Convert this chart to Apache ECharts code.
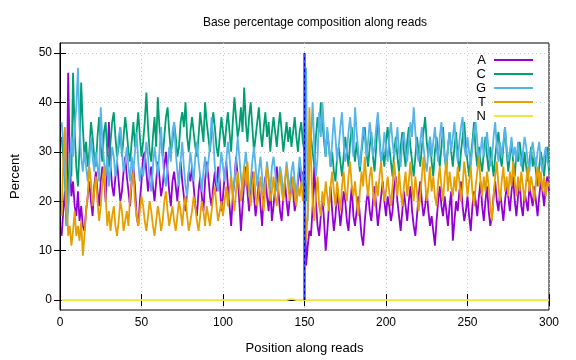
<!DOCTYPE html>
<html>
<head>
<meta charset="utf-8">
<script src="https://cdn.jsdelivr.net/npm/echarts@6/dist/echarts.min.js"></script>
<style>html,body{margin:0;padding:0;background:#fff}#c{width:576px;height:360px}</style>
</head>
<body>
<div id="c"></div>
<script>
const seriesNames = ['A', 'C', 'G', 'T', 'N'];
const seriesColors = ['#9400d3', '#009e73', '#56b4e9', '#e69f00', '#f0e442'];
const xTicks = [0, 50, 100, 150, 200, 250, 300];
const yTicks = [0, 10, 20, 30, 40, 50];
const readBoundary = 150;
const boundarySpan = [0, 50];

const valuesA = [
13,18,22,15,46,28,21,24,19,17, 22,16,19,15,14,18,21,24,20,17, 23,26,22,19,24,27,25,20,28,36,
27,23,21,25,28,24,20,22,26,29, 25,22,19,24,27,23,17,15,20,24, 29,30,26,22,25,27,23,20,24,28,
25,21,23,27,30,26,22,19,24,26, 23,20,25,28,24,21,18,22,26,24, 27,23,19,17,22,25,21,18,24,28,
25,21,19,23,26,22,27,24,18,21, 25,28,23,19,15,21,24,29,25,20, 14,19,24,27,22,18,23,26,21,17,
20,24,19,15,22,25,21,18,23,16, 19,23,27,22,18,16,21,24,20,17, 21,25,22,18,20,24,27,23,26,22,
7,11,14,13,19,27,20,15,13,17, 21,16,10,14,19,23,18,14,17,22, 19,15,18,22,20,16,14,19,23,17,
15,18,21,17,13,11,16,20,22,18, 16,20,23,19,15,18,21,24,20,17, 21,19,16,18,23,25,20,17,14,18,
22,19,16,20,23,18,15,13,17,21, 24,20,17,19,22,18,15,17,14,11, 16,20,23,19,17,21,18,15,19,22,
12,16,20,18,22,24,19,16,18,21, 17,14,19,22,20,17,21,24,19,16, 20,23,18,15,17,21,24,20,18,22,
19,16,20,23,21,18,22,25,20,17, 21,24,19,17,22,20,18,23,21,19, 23,20,17,21,24,22,19,23,25,22
];
const valuesC = [
33,29,24,17,22,30,25,46,34,27, 23,31,44,35,29,32,27,30,36,33, 29,27,33,37,31,28,34,36,30,27,
32,36,38,33,29,31,35,29,33,37, 34,30,28,32,36,31,34,38,33,29, 32,36,42,35,30,28,33,37,31,41,
35,32,29,33,37,39,34,30,32,36, 33,29,31,36,38,35,40,33,30,34, 37,34,31,29,33,38,35,32,40,36,
33,30,34,38,35,31,29,33,37,34, 31,35,38,34,30,36,41,37,33,35, 39,34,43,36,32,37,40,35,30,33,
36,39,34,31,35,38,33,36,30,34, 37,34,31,35,38,34,30,33,36,32, 35,31,34,37,33,30,34,36,32,30,
20,24,29,33,30,27,33,37,34,40, 36,32,29,34,31,27,30,26,24,29, 31,28,25,29,33,30,27,32,35,31,
28,32,29,26,30,33,35,30,27,31, 34,29,26,31,37,33,28,30,27,32, 35,31,28,25,30,33,29,26,31,34,
30,27,32,35,31,28,25,29,33,30, 27,31,34,37,32,29,33,28,25,30, 33,30,27,31,35,29,26,31,34,30,
27,31,34,29,26,30,33,36,31,28, 25,29,32,36,30,27,31,28,26,30, 33,29,26,31,28,25,29,32,34,29,
27,31,35,30,26,29,32,28,25,30, 28,32,29,26,30,27,24,28,31,27, 29,26,23,27,30,28,25,29,31,26
];
const valuesG = [
36,32,26,15,18,25,33,29,35,39, 47,35,29,26,30,27,24,28,33,29, 26,30,27,24,39,32,28,25,29,23,
27,31,29,25,28,33,35,30,26,28, 31,27,24,29,26,30,34,28,24,27, 25,28,32,29,24,22,27,31,28,25,
30,35,29,25,23,27,31,28,34,36, 30,26,23,28,32,27,23,21,26,30, 27,24,29,32,28,25,22,26,29,25,
28,31,37,33,27,24,22,26,30,27, 24,28,32,29,25,21,24,28,33,29, 25,22,27,30,26,21,24,28,31,27,
23,26,29,25,21,24,28,25,22,27, 29,26,22,24,27,25,21,24,28,25, 22,26,28,24,21,25,29,26,23,28,
47,16,28,33,40,31,25,29,38,33, 40,34,29,35,31,27,32,37,33,28, 31,35,38,32,28,30,34,37,33,29,
39,34,30,27,31,35,33,29,32,36, 33,29,31,35,38,32,28,30,34,31, 28,33,36,32,29,31,35,30,27,32,
34,30,28,32,36,33,39,34,30,28, 32,35,31,28,26,30,33,29,32,35, 31,28,33,36,32,29,27,31,34,30,
33,36,31,28,32,35,37,31,29,33, 30,27,31,34,36,32,28,30,33,29, 31,34,30,27,29,33,36,31,28,32,
29,32,35,31,28,30,33,29,31,28, 32,29,27,30,33,31,28,26,30,32, 29,27,30,32,28,26,29,31,28,27
];
const valuesT = [
17,28,35,22,13,15,11,14,18,13, 15,12,16,9,13,18,21,27,24,19, 22,25,20,16,19,24,27,21,15,18,
14,17,19,15,13,16,20,18,14,16, 18,15,21,24,26,20,17,15,18,21, 19,16,14,17,20,18,15,13,16,19,
17,14,16,20,22,18,15,17,19,16, 14,17,20,18,15,19,21,17,14,16, 18,21,19,16,14,17,20,18,15,19,
17,15,18,21,23,19,16,18,20,17, 20,23,19,22,25,21,18,22,26,23, 20,24,27,23,28,22,19,23,26,21,
19,22,25,21,18,23,27,24,20,22, 25,21,19,23,26,22,20,24,27,23, 20,22,25,21,19,23,21,24,20,22,
12,18,39,28,20,16,21,25,19,17, 22,19,24,21,18,23,26,22,19,24, 21,18,23,26,22,20,25,28,23,21,
24,20,17,22,26,23,29,24,21,25, 27,22,19,24,21,25,28,23,20,22, 25,22,19,23,28,24,21,26,22,19,
23,26,21,24,28,23,20,25,22,18, 21,25,29,24,20,23,27,22,25,21, 19,24,27,23,20,25,28,22,26,23,
21,25,22,27,24,20,23,28,25,21, 24,27,22,19,23,26,29,24,21,25, 22,26,23,19,16,21,25,28,23,20,
24,27,22,25,21,26,23,28,24,21, 25,22,26,23,20,24,27,22,25,23, 20,24,27,23,26,22,25,21,24,23
];
const valuesN = [
0,0,0,0,0,0,0,0,0,0, 0,0,0,0,0,0,0,0,0,0, 0,0,0,0,0,0,0,0,0,0,
0,0,0,0,0,0,0,0,0,0, 0,0,0,0,0,0,0,0,0,0, 0,0,0,0,0,0,0,0,0,0,
0,0,0,0,0,0,0,0,0,0, 0,0,0,0,0,0,0,0,0,0, 0,0,0,0,0,0,0,0,0,0,
0,0,0,0,0,0,0,0,0,0, 0,0,0,0,0,0,0,0,0,0, 0,0,0,0,0,0,0,0,0,0,
0,0,0,0,0,0,0,0,0,0, 0,0,0,0,0,0,0,0,0,0, 0.2,0.4,0.2,0,0,0,0,0,0,0,
0,0,0,0,0,0,0,0,0,0, 0,0,0,0,0,0,0,0,0,0, 0,0,0,0,0,0,0,0,0,0,
0,0,0,0,0,0,0,0,0,0, 0,0,0,0,0,0,0,0,0,0, 0,0,0,0,0,0,0,0,0,0,
0,0,0,0,0,0,0,0,0,0, 0,0,0,0,0,0,0,0,0,0, 0,0,0,0,0,0,0,0,0,0,
0,0,0,0,0,0,0,0,0,0, 0,0,0,0,0,0,0,0,0,0, 0,0,0,0,0,0,0,0,0,0,
0,0,0,0,0,0,0,0,0,0, 0,0,0,0,0,0,0,0,0,0, 0,0,0,0,0,0,0,0,0,0
];
const allValues = [valuesA, valuesC, valuesG, valuesT, valuesN];

const FONT = 'Liberation Sans, Arial, sans-serif';
const chart = echarts.init(document.getElementById('c'), null, {renderer: 'canvas'});

const lineSeries = seriesNames.map((name, k) => ({
  name: name,
  type: 'line',
  showSymbol: false,
  symbol: 'none',
  data: allValues[k].map((v, i) => [i + 1, v]),
  lineStyle: {color: seriesColors[k], width: 1.8},
  itemStyle: {color: seriesColors[k]},
  emphasis: {disabled: true},
  z: 3 + k
}));

lineSeries.push({
  name: 'boundary',
  type: 'line',
  symbol: 'none',
  data: [[readBoundary, boundarySpan[0]], [readBoundary, boundarySpan[1]]],
  lineStyle: {color: '#3355ff', width: 2.5},
  z: 10
});
lineSeries.push({
  name: 'boundary2',
  type: 'line',
  symbol: 'none',
  data: [[readBoundary, boundarySpan[0]], [readBoundary, boundarySpan[1]]],
  lineStyle: {color: '#0000c0', width: 1, type: [3, 3]},
  z: 11
});

chart.setOption({
  animation: false,
  backgroundColor: '#fff',
  title: {
    text: 'Base percentage composition along reads',
    left: 310, top: 12, textAlign: 'center',
    textStyle: {fontFamily: FONT, fontSize: 12, fontWeight: 'normal', color: '#000'}
  },
  legend: {
    data: seriesNames.map(n => ({name: n, icon: 'rect'})),
    orient: 'vertical',
    right: 38, top: 48,
    align: 'right',
    itemWidth: 39, itemHeight: 2, itemGap: 0,
    textStyle: {fontFamily: FONT, fontSize: 13, color: '#000', lineHeight: 14, padding: [0, 3, 0, 0]}
  },
  grid: {left: 60, right: 27, top: 43, bottom: 45, show: true, borderColor: '#000', borderWidth: 1, backgroundColor: 'transparent'},
  xAxis: [{
    type: 'value', min: xTicks[0], max: xTicks[xTicks.length - 1], interval: 50,
    name: 'Position along reads', nameLocation: 'middle', nameGap: 32,
    nameTextStyle: {fontFamily: FONT, fontSize: 13, color: '#000'},
    axisLine: {lineStyle: {color: '#000', width: 1}},
    axisTick: {inside: true, length: 6, lineStyle: {color: '#000'}},
    axisLabel: {fontFamily: FONT, fontSize: 12, color: '#000', margin: 7},
    splitLine: {show: true, lineStyle: {color: '#c8c8c8', type: [1, 3], width: 1}}
  }, {
    type: 'value', position: 'top', min: xTicks[0], max: xTicks[xTicks.length - 1], interval: 50,
    axisLine: {show: false},
    axisTick: {inside: true, length: 6, lineStyle: {color: '#000'}},
    axisLabel: {show: false}, splitLine: {show: false}
  }],
  yAxis: [{
    type: 'value', min: -2, max: 52,
    name: 'Percent', nameLocation: 'middle', nameGap: 38, nameRotate: 90,
    nameTextStyle: {fontFamily: FONT, fontSize: 13, color: '#000'},
    axisLine: {show: true, lineStyle: {color: '#000', width: 1}},
    axisTick: {inside: true, length: 6, lineStyle: {color: '#000'}, customValues: yTicks},
    axisLabel: {fontFamily: FONT, fontSize: 12, color: '#000', margin: 8, customValues: yTicks},
    splitLine: {show: true, lineStyle: {color: '#c8c8c8', type: [1, 3], width: 1}}
  }, {
    type: 'value', position: 'right', min: -2, max: 52,
    axisLine: {show: false},
    axisTick: {inside: true, length: 6, lineStyle: {color: '#000'}, customValues: yTicks},
    axisLabel: {show: false, customValues: yTicks}, splitLine: {show: false}
  }],
  series: lineSeries
});
</script>
</body>
</html>
